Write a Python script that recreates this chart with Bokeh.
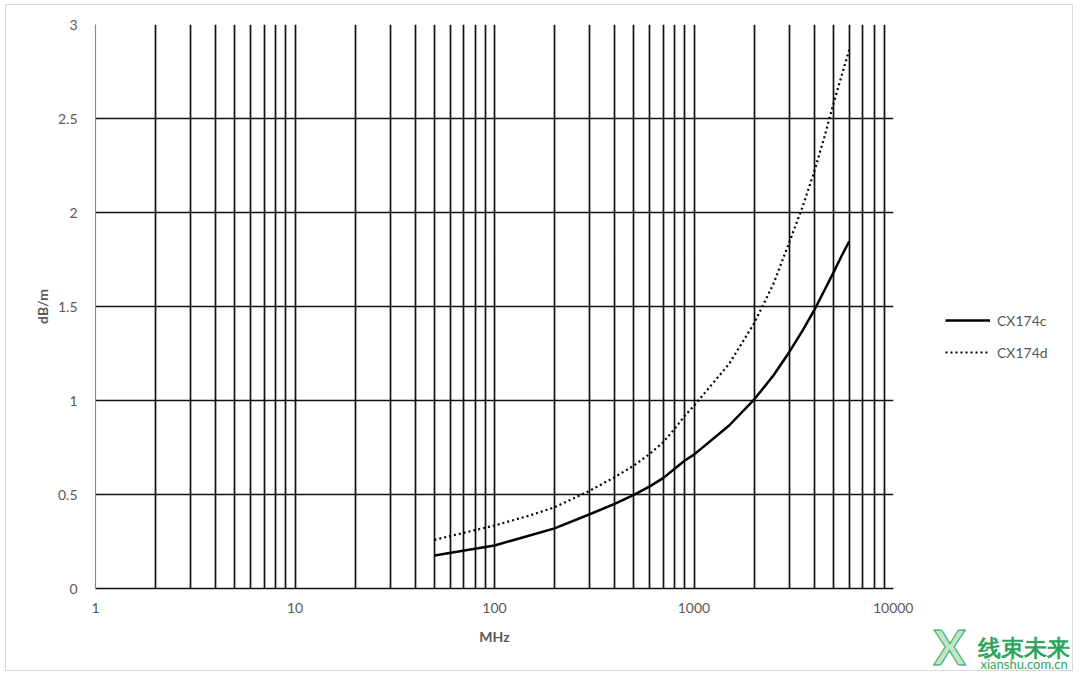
from bokeh.plotting import figure
from bokeh.layouts import row
from bokeh.models import (FixedTicker, CustomJSTickFormatter, Legend, LegendItem, Label,
                          Range1d, InlineStyleSheet)
from bokeh.embed import file_html
from bokeh.resources import INLINE

# ---- data ----
freq_mhz = [50, 100, 150, 200, 300, 400, 500, 600, 700, 800, 900, 1000, 1500, 2000, 2500,
            3000, 3500, 4000, 4500, 5000, 5500, 6000]
cx174c = [0.175, 0.229, 0.282, 0.32, 0.395, 0.45, 0.498, 0.543, 0.587, 0.637, 0.681, 0.712,
          0.867, 1.005, 1.133, 1.257, 1.372, 1.479, 1.585, 1.68, 1.77, 1.847]
cx174d = [0.259, 0.335, 0.388, 0.432, 0.52, 0.592, 0.654, 0.716, 0.778, 0.849, 0.92, 0.972,
          1.195, 1.41, 1.62, 1.84, 2.03, 2.215, 2.40, 2.578, 2.73, 2.865]
x_major_ticks = [1, 10, 100, 1000, 10000]
x_grid_ticks = [m * d for d in [1, 10, 100, 1000] for m in range(2, 11)]
y_ticks = [0, 0.5, 1, 1.5, 2, 2.5, 3]
series_names = ["CX174c", "CX174d"]

FONT = "Lato"
GRAY = "#595959"
GREEN = "#2ea65a"

p = figure(width=913, height=674, x_axis_type="log", x_range=(1, 10000), y_range=(0, 3),
           output_backend="svg", toolbar_location=None,
           min_border_left=95, min_border_right=20, min_border_top=24, min_border_bottom=86)
p.outline_line_color = None
p.background_fill_color = "white"
p.border_fill_color = "white"

# grids
p.xgrid.ticker = FixedTicker(ticks=x_grid_ticks)
p.xgrid.grid_line_color = "#111111"
p.xgrid.grid_line_width = 1.7
p.ygrid.ticker = FixedTicker(ticks=y_ticks)
p.ygrid.grid_line_color = "#111111"
p.ygrid.grid_line_width = 1.7

# axes
p.xaxis.ticker = FixedTicker(ticks=x_major_ticks)
p.xaxis.formatter = CustomJSTickFormatter(code="return String(Math.round(tick));")
p.yaxis.ticker = FixedTicker(ticks=y_ticks)
p.yaxis.formatter = CustomJSTickFormatter(code="return String(tick);")
for ax in (p.xaxis[0], p.yaxis[0]):
    ax.major_tick_line_color = None
    ax.minor_tick_line_color = None
    ax.major_label_text_font = FONT
    ax.major_label_text_font_size = "14px"
    ax.major_label_text_color = GRAY
    ax.axis_label_text_font = FONT
    ax.axis_label_text_font_size = "14px"
    ax.axis_label_text_font_style = "bold"
    ax.axis_label_text_color = GRAY
p.xaxis.axis_line_color = "#111111"
p.xaxis.axis_line_width = 1.7
p.yaxis.axis_line_color = "#8c8c8c"
p.yaxis.axis_line_width = 1.2
p.xaxis.axis_label = "MHz"
p.yaxis.axis_label = "dB/m"
p.xaxis.major_label_standoff = 8
p.xaxis.axis_label_standoff = 12
p.yaxis.major_label_standoff = 12
p.yaxis.axis_label_standoff = 4

# series
p.line(freq_mhz, cx174c, line_color="black", line_width=2.5, line_join="round")
p.line(freq_mhz, cx174d, line_color="black", line_width=2.2, line_dash="2 3")

# ---- side figure: legend + watermark (series drawn off-range, only for legend samples) ----
p2 = figure(width=167, height=674, x_range=Range1d(0, 1), y_range=Range1d(0, 1),
            x_axis_location=None, y_axis_location=None,
            output_backend="svg", toolbar_location=None,
            min_border_left=0, min_border_right=0, min_border_top=0, min_border_bottom=0)
aligned = True
try:
    p2.frame_align = False
    p.frame_align = False
    aligned = False
except Exception:
    aligned = True
p2.grid.visible = False
p2.outline_line_color = None
p2.background_fill_color = "white"
p2.border_fill_color = "white"
k1 = p2.line(freq_mhz, cx174c, line_color="black", line_width=2.5)
k2 = p2.line(freq_mhz, cx174d, line_color="black", line_width=2.2, line_dash="2 3")

base = 86 if aligned else 0  # distance from canvas bottom to p2's frame bottom
legend = Legend(items=[LegendItem(label=series_names[0], renderers=[k1]),
                       LegendItem(label=series_names[1], renderers=[k2])],
                location=(32, 312 - base), border_line_color=None, background_fill_alpha=0,
                label_text_font=FONT, label_text_font_size="14px", label_text_color=GRAY,
                glyph_width=45, glyph_height=20, spacing=12, label_standoff=7,
                margin=0, padding=0)
p2.add_layout(legend, "center")

p2.add_layout(Label(x=64, y=14 - base, x_units="screen", y_units="screen", text="线束未来",
                    text_font=value_font if False else FONT, text_font_size="23px",
                    text_color=GREEN, text_font_style="bold"))
p2.add_layout(Label(x=67, y=3 - base, x_units="screen", y_units="screen", text="xianshu.com.cn",
                    text_font=FONT, text_font_size="13px", text_color=GREEN))
p2.add_layout(Label(x=20, y=0 - base, x_units="screen", y_units="screen", text="X",
                    text_font=FONT, text_font_size="48px", text_color="#bfe6cb",
                    text_outline_color=GREEN, text_font_style="bold"))

border_css = InlineStyleSheet(css=""":host::after { content: ''; position: absolute; left: 5px; top: 4px;
  right: 7px; bottom: 3px; border: 1px solid #d9d9d9; pointer-events: none; z-index: 10; }
:host { position: relative; }""")
layout = row(p, p2, spacing=0, stylesheets=[border_css])

open("out.html", "w").write(file_html(layout, INLINE))
